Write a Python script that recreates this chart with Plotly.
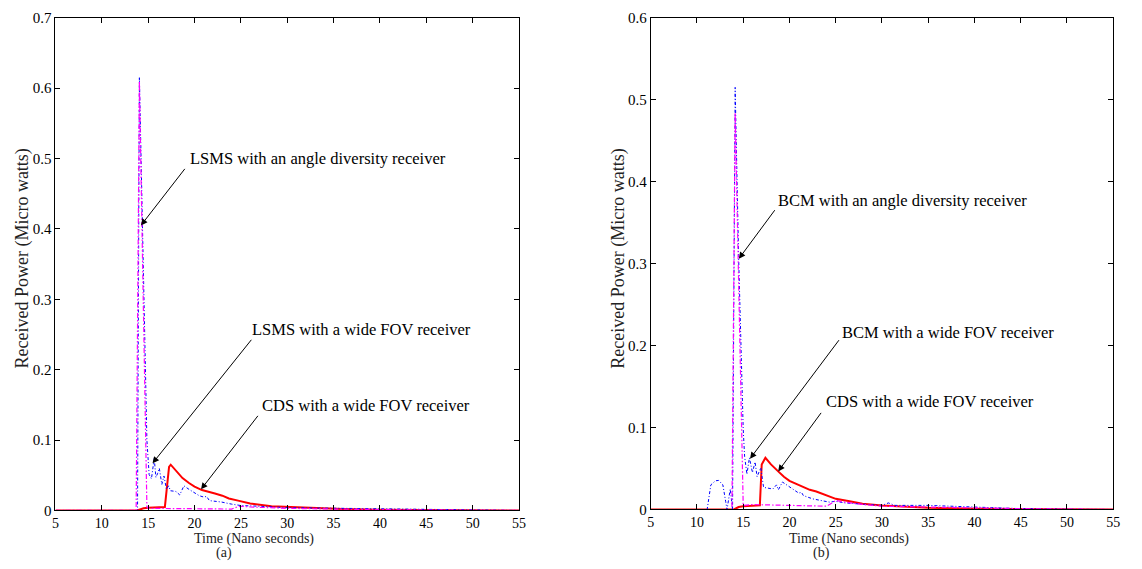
import plotly.graph_objects as go

W, H = 1142, 569

# ---------------- (a) LSMS vs CDS ----------------
a_red_t = [5, 13.8, 14.5, 15.0, 16.8, 17.0, 17.25, 17.43, 18.0, 18.7, 19.4, 20.0, 20.8, 21.5,
           22.2, 23.0, 23.7, 24.7, 26.0, 28.3, 30.0, 33.3, 36.0, 40.0, 45.0, 55.0]
a_red_v = [0, 0, 0.003, 0.004, 0.005, 0.035, 0.062, 0.065, 0.057, 0.046, 0.039, 0.034, 0.029, 0.026,
           0.024, 0.021, 0.017, 0.014, 0.010, 0.006, 0.005, 0.003, 0.002, 0.001, 0.0005, 0]

a_blue_t = [5, 13.85, 14.05, 14.3, 14.58, 14.86, 15.1, 15.35, 15.65, 15.83, 16.0, 16.2, 16.47, 16.7,
            16.97, 17.2, 17.4, 18.0, 18.4, 18.85, 19.4, 20.0, 20.5, 21.0, 21.3, 21.6, 22.3, 22.9,
            24.0, 25.0, 27.0, 30.0, 33.0, 36.0, 40.0, 45.0, 50.0, 55.0]
a_blue_v = [0, 0, 0.616, 0.45, 0.277, 0.10, 0.051, 0.045, 0.074, 0.047, 0.052, 0.06, 0.037, 0.049,
            0.03, 0.035, 0.028, 0.027, 0.022, 0.035, 0.03, 0.025, 0.021, 0.019, 0.02, 0.014, 0.013, 0.012,
            0.009, 0.007, 0.006, 0.004, 0.0035, 0.003, 0.0015, 0.0007, 0.0002, 0]

a_mag_t = [5, 13.7, 14.05, 14.86, 15.0, 20.0, 24.0, 24.6, 25.0, 26.0, 28.0, 30.0, 35.0, 40.0, 45.0, 55.0]
a_mag_v = [0, 0, 0.61, 0.005, 0.003, 0.002, 0.002, 0.005, 0.006, 0.005, 0.004, 0.003, 0.002, 0.001, 0.0005, 0]

# ---------------- (b) BCM vs CDS ----------------
b_red_t = [5, 14.0, 14.5, 15.0, 16.8, 17.0, 17.4, 18.0, 18.78, 19.4, 20.0, 21.0, 22.2, 22.9, 24.0,
           25.0, 26.5, 27.9, 30.0, 31.4, 35.0, 40.0, 45.0, 55.0]
b_red_v = [0, 0, 0.003, 0.004, 0.005, 0.055, 0.063, 0.055, 0.0465, 0.04, 0.035, 0.03, 0.024, 0.022, 0.017,
           0.013, 0.01, 0.007, 0.005, 0.004, 0.002, 0.001, 0.0005, 0]

b_blue_t = [5, 11.1, 11.5, 12.0, 12.35, 12.8, 13.1, 13.25, 13.6, 13.85, 14.13, 14.5, 15.0, 15.15, 15.4,
            15.67, 16.0, 16.28, 16.5, 16.9, 17.2, 18.2, 18.6, 18.8, 19.24, 19.8, 20.4, 21.0, 21.3, 21.5,
            22.5, 24.3, 25.0, 26.0, 27.2, 30.0, 30.7, 31.4, 35.0, 40.0, 45.0, 50.0, 55.0]
b_blue_v = [0, 0, 0.03, 0.035, 0.0355, 0.03, 0.01, 0, 0.025, 0, 0.515, 0.31, 0.098, 0.065, 0.043,
            0.063, 0.045, 0.058, 0.04, 0.051, 0.027, 0.025, 0.03, 0.024, 0.0335, 0.029, 0.025, 0.02, 0.021, 0.017,
            0.013, 0.009, 0.01, 0.008, 0.007, 0.005, 0.008, 0.005, 0.005, 0.003, 0.001, 0.0003, 0]

b_mag_t = [5, 13.78, 14.13, 15.0, 16.0, 20.0, 24.0, 24.6, 25.0, 26.0, 28.0, 30.0, 35.0, 40.0, 45.0, 55.0]
b_mag_v = [0, 0, 0.484, 0.005, 0.006, 0.005, 0.004, 0.008, 0.011, 0.009, 0.006, 0.004, 0.003, 0.002, 0.001, 0]

x_ticks = [5, 10, 15, 20, 25, 30, 35, 40, 45, 50, 55]
a_y_ticks = [0, 0.1, 0.2, 0.3, 0.4, 0.5, 0.6, 0.7]
b_y_ticks = [0, 0.1, 0.2, 0.3, 0.4, 0.5, 0.6]

FONT = "Liberation Serif"
RED_STYLE = dict(color="#ff0000", width=2)
BLUE_STYLE = dict(color="#0000ff", width=1, dash="3px,2px,1px,2px")
MAG_STYLE = dict(color="#ff00ff", width=1.2, dash="5px,2px,1.5px,2px")


def px_x(p):
    return p / W


def px_y(p):
    return 1 - p / H


fig = go.Figure()

for t, v, style, ax in [
    (a_red_t, a_red_v, RED_STYLE, "x"), (a_blue_t, a_blue_v, BLUE_STYLE, "x"), (a_mag_t, a_mag_v, MAG_STYLE, "x"),
    (b_red_t, b_red_v, RED_STYLE, "x2"), (b_blue_t, b_blue_v, BLUE_STYLE, "x2"), (b_mag_t, b_mag_v, MAG_STYLE, "x2"),
]:
    fig.add_trace(go.Scatter(x=t, y=v, mode="lines", line=style, showlegend=False,
                             xaxis=ax, yaxis="y" if ax == "x" else "y2", hoverinfo="skip"))

axis_common = dict(showline=True, linecolor="black", linewidth=1, mirror="ticks", ticks="inside",
                   ticklen=5, tickcolor="black", showgrid=False, zeroline=False)
x_font = dict(family=FONT, size=14, color="black")
y_font = dict(family=FONT, size=15, color="black")

fig.update_layout(
    width=W, height=H, margin=dict(l=0, r=0, t=0, b=0),
    paper_bgcolor="white", plot_bgcolor="white",
    xaxis=dict(axis_common, tickfont=x_font, domain=[px_x(52), px_x(520)], range=[5, 55],
               tickvals=x_ticks, anchor="y"),
    yaxis=dict(axis_common, tickfont=y_font, domain=[px_y(517), px_y(10)], range=[0, 0.7],
               tickvals=a_y_ticks, ticktext=[f"{v:g}" for v in a_y_ticks], anchor="x"),
    xaxis2=dict(axis_common, tickfont=x_font, domain=[px_x(653), px_x(1120)], range=[5, 55],
                tickvals=x_ticks, anchor="y2"),
    yaxis2=dict(axis_common, tickfont=y_font, domain=[px_y(516), px_y(10)], range=[0, 0.6],
                tickvals=b_y_ticks, ticktext=[f"{v:g}" for v in b_y_ticks], anchor="x2"),
)

annotations = []


def page_text(text, x, y, size, xanchor="center", angle=0, color="#222"):
    return dict(text=text, x=px_x(x), y=px_y(y), xref="paper", yref="paper", showarrow=False,
                xanchor=xanchor, yanchor="middle", textangle=angle,
                font=dict(family=FONT, size=size, color=color))


# axis titles and panel captions
annotations.append(page_text("Time (Nano seconds)", 252, 546, 14))
annotations.append(page_text("(a)", 222, 561, 14))
annotations.append(page_text("Time (Nano seconds)", 853, 546, 14))
annotations.append(page_text("(b)", 825, 561, 14))
annotations.append(page_text("Received Power (Micro watts)", 19, 258, 18, angle=-90))
annotations.append(page_text("Received Power (Micro watts)", 621, 258, 18, angle=-90))

# curve labels
labels = [
    ("LSMS with an angle diversity receiver", 186, 155),
    ("LSMS with a wide FOV receiver", 248, 331),
    ("CDS with a wide FOV receiver", 258, 409),
    ("BCM with an angle diversity receiver", 780, 198),
    ("BCM with a wide FOV receiver", 844, 334),
    ("CDS with a wide FOV receiver", 828, 405),
]
for text, lx, ly in labels:
    annotations.append(page_text(text, lx, ly, 16.5, xanchor="left", color="black"))

# pointer arrows: tip in data units, tail offset in pixels
arrows = [
    ("x", "y", 14.22, 0.405, 45, -58),
    ("x", "y", 15.47, 0.067, 100, -125),
    ("x", "y", 20.7, 0.030, 58, -75),
    ("x2", "y2", 14.53, 0.306, 37, -50),
    ("x2", "y2", 15.74, 0.062, 90, -120),
    ("x2", "y2", 18.78, 0.0465, 44, -60),
]
for xr, yr, tx, ty, dx, dy in arrows:
    annotations.append(dict(text="", x=tx, y=ty, xref=xr, yref=yr, showarrow=True, ax=dx, ay=dy,
                            arrowhead=2, arrowsize=1.3, arrowwidth=1, arrowcolor="black", standoff=0))

fig.update_layout(annotations=annotations)
fig.write_html("out.html")
